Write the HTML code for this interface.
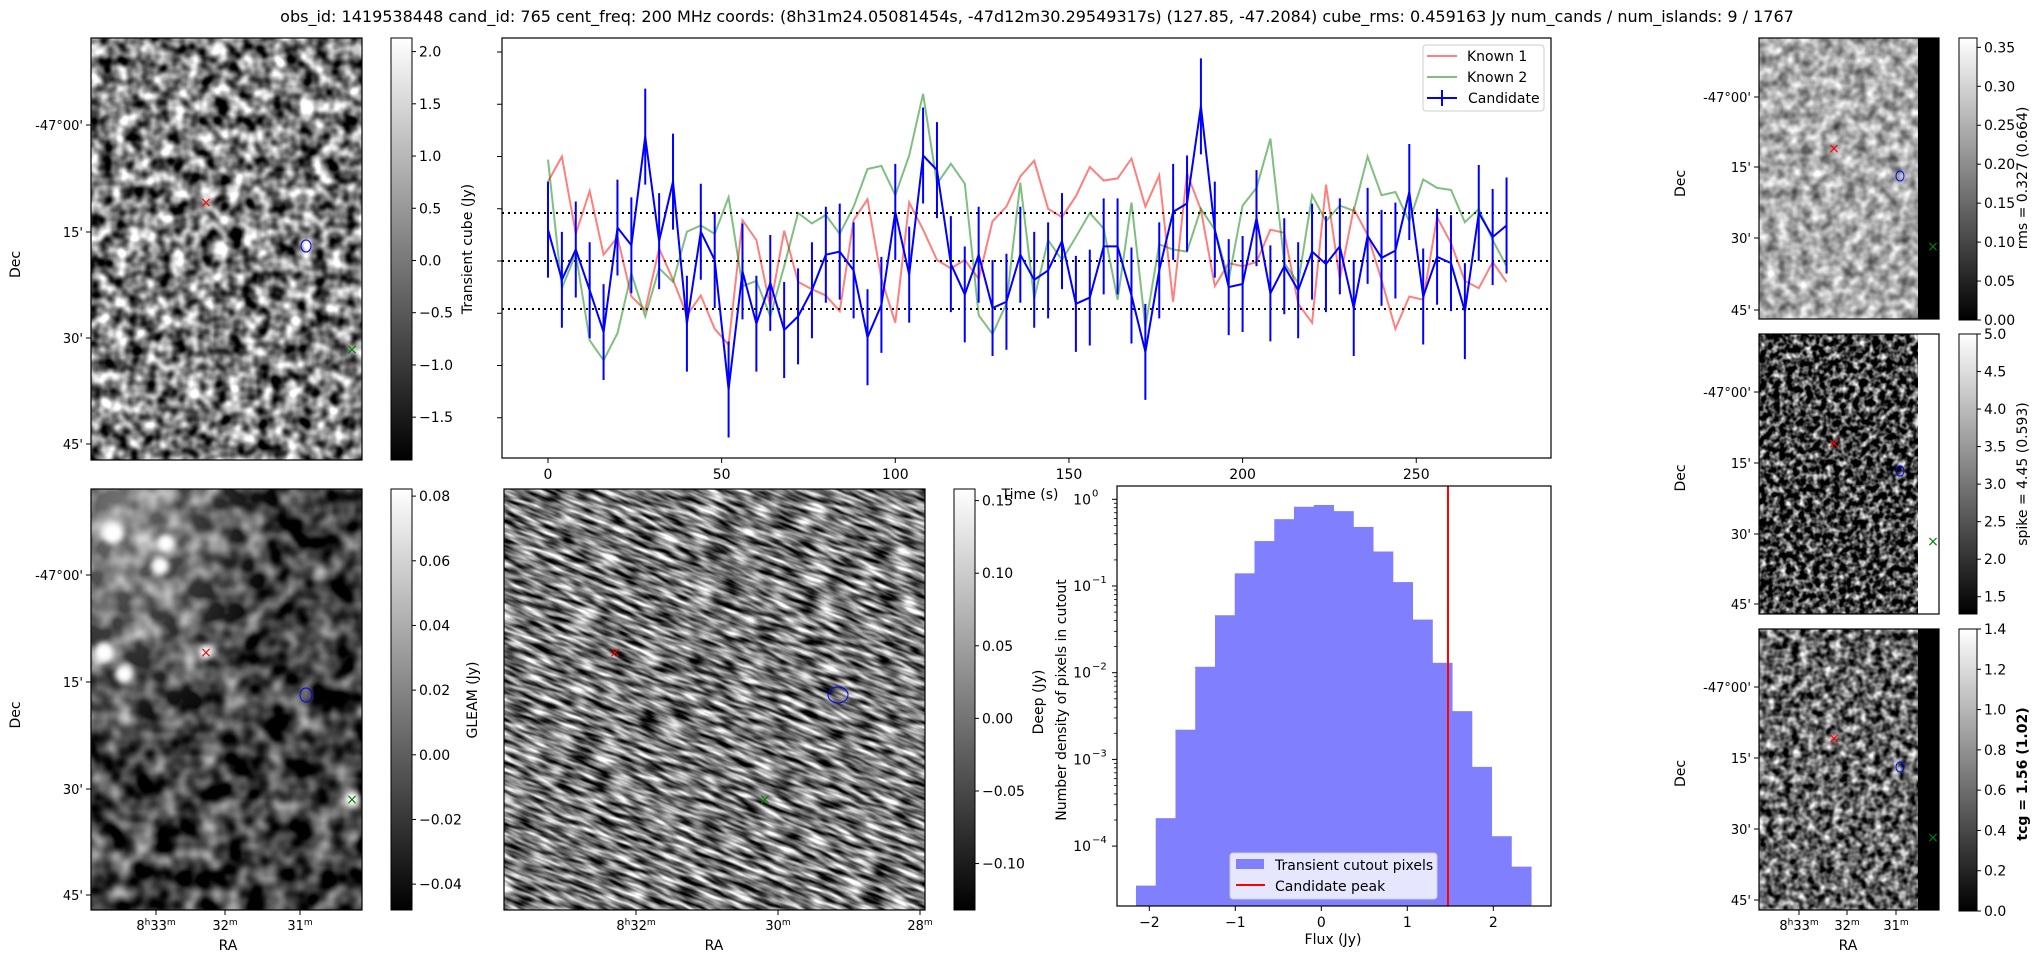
<!DOCTYPE html>
<html><head><meta charset="utf-8"><title>Candidate 765</title>
<style>
html,body{margin:0;padding:0;background:#fff;overflow:hidden;width:2033px;height:960px;}
svg{display:block;font-family:"DejaVu Sans","Liberation Sans",sans-serif;overflow:hidden;}
.tk{font-size:14px;fill:#000;}
.ax{fill:none;stroke:#000;stroke-width:1.2;}
filter{color-interpolation-filters:sRGB;}
</style></head>
<body>
<svg id="fig" width="2033" height="960" viewBox="0 0 2033 960" xmlns="http://www.w3.org/2000/svg">
<defs>
  <linearGradient id="cbar" x1="0" y1="1" x2="0" y2="0"><stop offset="0" stop-color="#000"/><stop offset="1" stop-color="#fff"/></linearGradient>
  <filter id="fTL" x="0" y="0" width="100%" height="100%" color-interpolation-filters="sRGB"><feTurbulence type="fractalNoise" baseFrequency="0.07" numOctaves="2" seed="3"/><feColorMatrix values="2.0 0 0 0 -0.5  2.0 0 0 0 -0.5  2.0 0 0 0 -0.5  0 0 0 0 1"/></filter>
  <filter id="fBL" x="0" y="0" width="100%" height="100%" color-interpolation-filters="sRGB"><feTurbulence type="fractalNoise" baseFrequency="0.045" numOctaves="2" seed="7"/><feColorMatrix values="1.4 0 0 0 -0.45  1.4 0 0 0 -0.45  1.4 0 0 0 -0.45  0 0 0 0 1"/></filter>
  <filter id="fDP" x="0" y="0" width="100%" height="100%" color-interpolation-filters="sRGB"><feTurbulence type="fractalNoise" baseFrequency="0.04 0.2" numOctaves="2" seed="11"/><feColorMatrix values="1.9 0 0 0 -0.47  1.9 0 0 0 -0.47  1.9 0 0 0 -0.47  0 0 0 0 1"/></filter>
  <filter id="fR1" x="0" y="0" width="100%" height="100%" color-interpolation-filters="sRGB"><feTurbulence type="fractalNoise" baseFrequency="0.09" numOctaves="2" seed="5"/><feColorMatrix values="1.0 0 0 0 0.17  1.0 0 0 0 0.17  1.0 0 0 0 0.17  0 0 0 0 1"/></filter>
  <filter id="fR2" x="0" y="0" width="100%" height="100%" color-interpolation-filters="sRGB"><feTurbulence type="fractalNoise" baseFrequency="0.15" numOctaves="2" seed="9"/><feColorMatrix values="2.2 0 0 0 -0.85  2.2 0 0 0 -0.85  2.2 0 0 0 -0.85  0 0 0 0 1"/></filter>
  <filter id="fR3" x="0" y="0" width="100%" height="100%" color-interpolation-filters="sRGB"><feTurbulence type="fractalNoise" baseFrequency="0.12" numOctaves="2" seed="13"/><feColorMatrix values="1.8 0 0 0 -0.5  1.8 0 0 0 -0.5  1.8 0 0 0 -0.5  0 0 0 0 1"/></filter>
  <filter id="blur3" color-interpolation-filters="sRGB"><feGaussianBlur stdDeviation="3"/></filter>
  <pattern id="deepPat" patternUnits="userSpaceOnUse" x="0" y="0" width="1400" height="1400" patternTransform="rotate(22 714 700)">
    <rect x="0" y="0" width="1400" height="1400" filter="url(#fDP)"/>
  </pattern>
  <radialGradient id="glow" cx="0.1" cy="0.05" r="0.6"><stop offset="0" stop-color="#fff" stop-opacity="0.45"/><stop offset="1" stop-color="#fff" stop-opacity="0"/></radialGradient>
</defs>

<text x="1037" y="22" text-anchor="middle" font-size="16">obs_id: 1419538448 cand_id: 765 cent_freq: 200 MHz coords: (8h31m24.05081454s, -47d12m30.29549317s) (127.85, -47.2084) cube_rms: 0.459163 Jy num_cands / num_islands: 9 / 1767</text>

<g>
  <rect x="91" y="38" width="271" height="422" filter="url(#fTL)"/>
  <rect x="91" y="38" width="271" height="422" class="ax"/>
  <text x="206" y="207" text-anchor="middle" font-size="14" fill="red">×</text>
  <ellipse cx="306" cy="246" rx="5" ry="6" fill="none" stroke="blue"/>
  <text x="352" y="354" text-anchor="middle" font-size="14" fill="green">×</text>
  <rect x="391" y="38" width="21" height="422" fill="url(#cbar)" stroke="#000"/>
  <text transform="translate(472,249) rotate(-90)" text-anchor="middle" font-size="14">Transient cube (Jy)</text>
</g>

<g>
  <rect x="91" y="489" width="271" height="421" filter="url(#fBL)"/>
  <rect x="91" y="489" width="271" height="421" fill="url(#glow)"/>
  <g fill="#fff" filter="url(#blur3)">
    <circle cx="113" cy="533" r="11"/><circle cx="166" cy="543" r="9"/><circle cx="160" cy="566" r="9"/><circle cx="104" cy="652" r="10"/><circle cx="124" cy="674" r="9"/><circle cx="352" cy="799" r="8"/><circle cx="206" cy="652" r="7"/>
  </g>
  <rect x="91" y="489" width="271" height="421" class="ax"/>
  <text x="206" y="657" text-anchor="middle" font-size="14" fill="red">×</text>
  <ellipse cx="306" cy="695" rx="6" ry="7" fill="none" stroke="blue"/>
  <text x="352" y="804" text-anchor="middle" font-size="14" fill="green">×</text>
  <rect x="391" y="489" width="21" height="421" fill="url(#cbar)" stroke="#000"/>
  <text transform="translate(477,700) rotate(-90)" text-anchor="middle" font-size="14">GLEAM (Jy)</text>
</g>

<g>
  <rect x="504" y="489" width="421" height="421" fill="url(#deepPat)"/>
  <rect x="504" y="489" width="421" height="421" class="ax"/>
  <text x="615" y="657" text-anchor="middle" font-size="14" fill="red">×</text>
  <ellipse cx="838" cy="695" rx="10" ry="8" fill="none" stroke="blue"/>
  <text x="765" y="804" text-anchor="middle" font-size="14" fill="green">×</text>
  <rect x="954" y="489" width="21" height="421" fill="url(#cbar)" stroke="#000"/>
  <text transform="translate(1043,702) rotate(-90)" text-anchor="middle" font-size="14">Deep (Jy)</text>
</g>

<g>
  <rect x="1759" y="38" width="159" height="281" filter="url(#fR1)"/>
  <rect x="1918" y="38" width="21" height="281" fill="#000"/>
  <rect x="1759" y="38" width="180" height="281" class="ax"/>
  <rect x="1959" y="38" width="18" height="282" fill="url(#cbar)" stroke="#000"/>
  <text transform="translate(2027,178) rotate(-90)" text-anchor="middle" font-size="14">rms = 0.327 (0.664)</text>
</g>
<g>
  <rect x="1759" y="334" width="159" height="280" filter="url(#fR2)"/>
  <rect x="1759" y="334" width="180" height="280" class="ax"/>
  <rect x="1959" y="334" width="18" height="280" fill="url(#cbar)" stroke="#000"/>
  <text transform="translate(2027,474) rotate(-90)" text-anchor="middle" font-size="14">spike = 4.45 (0.593)</text>
</g>
<g>
  <rect x="1759" y="629" width="159" height="281" filter="url(#fR3)"/>
  <rect x="1918" y="629" width="21" height="281" fill="#000"/>
  <rect x="1759" y="629" width="180" height="281" class="ax"/>
  <rect x="1959" y="629" width="18" height="282" fill="url(#cbar)" stroke="#000"/>
  <text transform="translate(2027,774) rotate(-90)" text-anchor="middle" font-size="14" font-weight="bold">tcg = 1.56 (1.02)</text>
</g>
<g font-size="14">
  <text x="1834" y="153" text-anchor="middle" fill="red">×</text><ellipse cx="1900" cy="176" rx="4" ry="5" fill="none" stroke="blue"/><text x="1933" y="251" text-anchor="middle" fill="green">×</text>
  <text x="1834" y="448" text-anchor="middle" fill="red">×</text><ellipse cx="1900" cy="471" rx="4" ry="5" fill="none" stroke="blue"/><text x="1933" y="546" text-anchor="middle" fill="green">×</text>
  <text x="1834" y="743" text-anchor="middle" fill="red">×</text><ellipse cx="1900" cy="767" rx="4" ry="5" fill="none" stroke="blue"/><text x="1933" y="842" text-anchor="middle" fill="green">×</text>
</g>

<g id="axesText"></g>
<g id="lc"></g>
<g id="hist"></g>
</svg>

<script>
// ---------- Light curve data ----------
const timeStep = 4;
const lcTicks = [0, 50, 100, 150, 200, 250];
const cubeRms = 0.459163;
const known1 = [0.76,1.00,0.26,0.67,0.06,0.23,-0.34,-0.47,0.12,-0.18,-0.52,-0.33,-0.65,-0.80,0.39,0.20,-0.44,0.29,-0.20,-0.27,-0.33,-0.48,0.39,0.59,
 -0.17,-0.59,0.56,0.30,0.01,-0.07,0.01,-0.17,0.38,0.52,0.81,0.96,0.50,0.42,0.62,0.90,0.77,0.79,0.98,0.52,0.82,-0.39,0.84,
 0.49,-0.24,-0.02,-0.05,-0.01,0.30,0.27,-0.41,-0.59,0.73,-0.17,0.50,0.25,-0.18,-0.65,-0.34,-0.37,0.42,0.17,-0.19,-0.26,-0.01,-0.20];
const known2 = [0.97,-0.26,0.07,-0.76,-0.95,-0.69,-0.12,-0.53,-0.07,-0.20,0.28,0.34,0.26,0.61,-0.24,-0.19,-0.53,-0.05,0.46,0.36,0.44,0.26,0.52,0.88,
 0.91,0.63,1.01,1.60,0.74,0.93,0.74,-0.52,-0.70,-0.41,0.75,-0.36,0.20,0.01,0.23,0.46,0.31,-0.37,0.56,-0.63,0.16,0.11,0.09,
 0.50,0.30,-0.18,0.53,0.70,1.17,-0.02,-0.21,0.63,0.38,0.53,0.48,1.00,0.63,0.66,0.38,0.78,0.70,0.68,0.37,0.50,0.20,-0.05];
const candidate = [0.30,-0.18,0.11,-0.28,-0.68,0.32,0.15,1.19,0.19,0.76,-0.60,0.28,0.01,-1.23,-0.10,-0.60,-0.21,-0.66,-0.53,-0.28,0.06,0.09,-0.09,-0.73,
 -0.42,0.47,-0.13,1.01,0.87,-0.03,-0.32,0.06,-0.45,-0.39,0.06,-0.18,-0.09,0.19,-0.41,-0.35,0.14,0.14,-0.33,-0.87,-0.09,0.47,0.55,
 1.48,0.30,-0.25,-0.22,0.41,-0.31,-0.05,-0.28,0.09,-0.03,0.14,-0.45,0.24,0.03,0.10,0.66,-0.34,0.04,-0.02,-0.48,0.46,0.23,0.34];

// ---------- Histogram data ----------
const histStart = -2.155;
const histWidth = 0.2297;
const histDensity = [3.5e-5,2.1e-4,2.2e-3,1.17e-2,0.046,0.14,0.33,0.59,0.82,0.86,0.73,0.48,0.25,0.111,0.041,0.013,3.6e-3,8.2e-4,1.3e-4,5.8e-5];
const candidatePeak = 1.473;
const histXTicks = [-2,-1,0,1,2];
const histYExp = [0,-1,-2,-3,-4];

// ---------- Image axis labels ----------
const cbTransient = [2.0,1.5,1.0,0.5,0.0,-0.5,-1.0,-1.5];
const cbGleam = [0.08,0.06,0.04,0.02,0.00,-0.02,-0.04];
const cbDeep = [0.15,0.10,0.05,0.00,-0.05,-0.10];
const cbRms = [0.35,0.30,0.25,0.20,0.15,0.10,0.05,0.00];
const cbSpike = [5.0,4.5,4.0,3.5,3.0,2.5,2.0,1.5];
const cbTcg = [1.4,1.2,1.0,0.8,0.6,0.4,0.2,0.0];
const decLabels = ["-47°00'","15'","30'","45'"];

const NS = "http://www.w3.org/2000/svg";
function mk(tag, attrs, parent, txt) {
  const e = document.createElementNS(NS, tag);
  for (const k in attrs) e.setAttribute(k, attrs[k]);
  if (txt !== undefined) e.textContent = txt;
  parent.appendChild(e);
  return e;
}
function fmt(v, d) { return v.toFixed(d).replace('-', '\u2212'); }

(function(){
  const g = document.getElementById('lc');
  const L=502,R=1551,T=38,B=458;
  const xS = t => 548 + t*3.473;
  const yS = v => 261 - v*104.5;
  [cubeRms, 0, -cubeRms].forEach(v => {
    const l = mk('line', {x1:L,x2:R,y1:yS(v),y2:yS(v),stroke:'#000','stroke-width':2,'stroke-dasharray':'2 4'}, g);
    
    
  });
  function line(arr, color, w, name) {
    const p = arr.map((v,i)=>(i?'L':'M')+xS(i*timeStep).toFixed(1)+' '+yS(v).toFixed(1)).join(' ');
    const e = mk('path', {d:p, fill:'none', stroke:color, 'stroke-width':w}, g);
    
    
  }
  line(known1, 'rgba(255,0,0,0.5)', 2, 'known1-series');
  line(known2, 'rgba(0,128,0,0.5)', 2, 'known2-series');
  candidate.forEach((v,i)=>{
    const x=xS(i*timeStep);
    const e = mk('line',{x1:x,x2:x,y1:yS(v+cubeRms),y2:yS(v-cubeRms),stroke:'#00f','stroke-width':2},g);
    
    
  });
  line(candidate, '#00f', 2, 'candidate-series');
  mk('rect',{x:L,y:T,width:R-L,height:B-T,class:'ax'},g);
  lcTicks.forEach(t=>{
    mk('line',{x1:xS(t),x2:xS(t),y1:B,y2:B+5,stroke:'#000'},g);
    const tx = mk('text',{x:xS(t),y:B+21,'text-anchor':'middle',class:'tk'},g,String(t));
    
    
  });
  [-1.5,-1,-0.5,0,0.5,1,1.5,2].forEach(v=>mk('line',{x1:L-5,x2:L,y1:yS(v),y2:yS(v),stroke:'#000'},g));
  const xl = mk('text',{x:1030,y:499,'text-anchor':'middle',class:'tk'},g,'Time (s)');
  
  
  const lg = mk('g',{},g);
  
  
  mk('rect',{x:1423,y:45,width:121,height:66,rx:3,fill:'#fff','fill-opacity':0.85,stroke:'#ccc'},lg);
  mk('line',{x1:1427,x2:1457,y1:56,y2:56,stroke:'rgba(255,0,0,0.5)','stroke-width':2},lg);
  mk('text',{x:1467,y:61,class:'tk'},lg,'Known 1');
  mk('line',{x1:1427,x2:1457,y1:77,y2:77,stroke:'rgba(0,128,0,0.5)','stroke-width':2},lg);
  mk('text',{x:1467,y:82,class:'tk'},lg,'Known 2');
  mk('line',{x1:1427,x2:1457,y1:98,y2:98,stroke:'#00f','stroke-width':2},lg);
  mk('line',{x1:1442,x2:1442,y1:90,y2:106,stroke:'#00f','stroke-width':2},lg);
  mk('text',{x:1468,y:103,class:'tk'},lg,'Candidate');
})();

(function(){
  const g = document.getElementById('hist');
  const L=1117,R=1551,T=486,B=906;
  const xS = f => 1321.3 + f*86;
  const yS = d => 499.3 - Math.log10(d)*86.7;
  histDensity.forEach((d,i)=>{
    const x0 = xS(histStart + i*histWidth), x1 = xS(histStart + (i+1)*histWidth);
    const r = mk('rect',{x:x0,y:yS(d),width:x1-x0+0.5,height:B-yS(d),fill:'#8080ff'},g);
    
    
  });
  const pk = mk('line',{x1:xS(candidatePeak),x2:xS(candidatePeak),y1:T,y2:B,stroke:'red','stroke-width':2},g);
  
  
  mk('rect',{x:L,y:T,width:R-L,height:B-T,class:'ax'},g);
  histXTicks.forEach(f=>{
    mk('line',{x1:xS(f),x2:xS(f),y1:B,y2:B+5,stroke:'#000'},g);
    mk('text',{x:xS(f),y:B+21,'text-anchor':'middle',class:'tk'},g,fmt(f,0));
  });
  histYExp.forEach(e=>{
    const y = 499.3 - e*86.7;
    mk('line',{x1:L-5,x2:L,y1:y,y2:y,stroke:'#000'},g);
    mk('text',{x:L-26,y:y+5,'text-anchor':'end',class:'tk'},g,'10');
    mk('text',{x:L-25,y:y-3,'text-anchor':'start','font-size':10},g,e===0?'0':'\u2212'+(-e));
    for (let m=2;m<10;m++){ const ym=y-Math.log10(m)*86.7; if(ym>T&&ym<B) mk('line',{x1:L-3,x2:L,y1:ym,y2:ym,stroke:'#000','stroke-width':0.8},g); }
  });
  const xt = mk('text',{x:1333,y:944,'text-anchor':'middle',class:'tk'},g,'Flux (Jy)');
  
  
  const yt = mk('text',{transform:'translate(1066,700) rotate(-90)','text-anchor':'middle',class:'tk'},g,'Number density of pixels in cutout');
  
  
  const lg = mk('g',{},g);
  
  
  mk('rect',{x:1230,y:853,width:207,height:46,rx:3,fill:'#fff','fill-opacity':0.8,stroke:'#ccc'},lg);
  mk('rect',{x:1236,y:859,width:28,height:10,fill:'#8080ff'},lg);
  mk('text',{x:1275,y:870,class:'tk'},lg,'Transient cutout pixels');
  mk('line',{x1:1236,x2:1265,y1:885,y2:885,stroke:'red','stroke-width':2},lg);
  mk('text',{x:1275,y:891,class:'tk'},lg,'Candidate peak');
})();

(function(){
  const g = document.getElementById('axesText');
  function cb(x, top, bot, vals, vTop, vBot, dec) {
    vals.forEach(v=>{
      const y = top + (vTop - v)/(vTop - vBot)*(bot-top);
      mk('line',{x1:x,x2:x+4,y1:y,y2:y,stroke:'#000'},g);
      const t = mk('text',{x:x+7,y:y+5,class:'tk'},g,fmt(v,dec));
      
      
    });
  }
  cb(412,38,460,cbTransient,2.13,-1.91,1);
  cb(412,489,910,cbGleam,0.0822,-0.048,2);
  cb(975,489,910,cbDeep,0.158,-0.132,2);
  cb(1977,38,320,cbRms,0.362,0,2);
  cb(1977,334,614,cbSpike,5.0,1.27,1);
  cb(1977,629,911,cbTcg,1.4,0,1);
  function dec(xr, ys, labX) {
    ys.forEach((y,i)=>{
      mk('line',{x1:xr-5,x2:xr,y1:y,y2:y,stroke:'#000'},g);
      mk('text',{x:xr-8,y:y+5,'text-anchor':'end','font-size':13},g,decLabels[i]);
    });
    mk('text',{transform:`translate(${labX},${(ys[0]+ys[3])/2-20}) rotate(-90)`,'text-anchor':'middle',class:'tk'},g,'Dec');
  }
  dec(91,[125,232,338,444],20);
  dec(91,[575,682,789,895],20);
  dec(1759,[97,167,238,310],1685);
  dec(1759,[392,463,534,604],1685);
  dec(1759,[687,758,829,900],1685);
  function ra(xs, labs, cx) {
    xs.forEach((x,i)=>{
      mk('line',{x1:x,x2:x,y1:910,y2:915,stroke:'#000'},g);
      const t = mk('text',{x:x,y:930,'text-anchor':'middle','font-size':13},g,labs[i][0]);
      mk('tspan',{'baseline-shift':'super','font-size':9},t,labs[i][1]);
      mk('tspan',{},t,labs[i][2]);
      mk('tspan',{'baseline-shift':'super','font-size':9},t,'m');
    });
    mk('text',{x:cx,y:950,'text-anchor':'middle',class:'tk'},g,'RA');
  }
  ra([156,225,300],[['8','h','33'],['','','32'],['','','31']],228);
  ra([636,778,920],[['8','h','32'],['','','30'],['','','28']],714);
  ra([1799,1847,1896],[['8','h','33'],['','','32'],['','','31']],1848);
})();
</script>
</body></html>
